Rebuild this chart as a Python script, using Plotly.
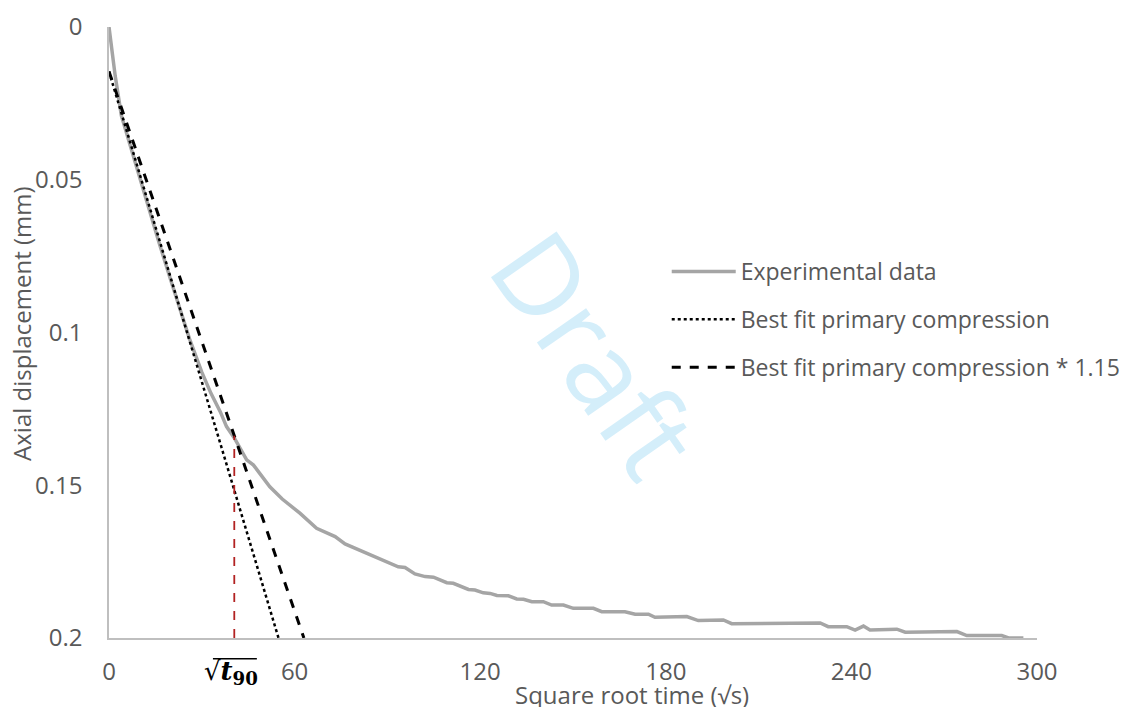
import plotly.graph_objects as go

# ---------------- data ----------------
exp_x = [0, 1, 2, 4, 8, 12, 16, 20, 26, 30, 33, 36, 38, 40.5, 44.5, 46.7, 52, 56,
         61.8, 67.1, 73.1, 76.3, 83.3, 93.5, 95.7, 98.9, 102.2, 104.9, 109.2, 111.3,
         116.2, 118.3, 121, 123.2, 125.4, 129.1, 131.8, 134, 136.7, 140.4, 143.1,
         146.9, 150.1, 156.6, 159.3, 166.8, 170.1, 174.4, 176.5, 186.8, 190.5, 198.6,
         201.3, 229.9, 232.5, 238.5, 241.2, 243.9, 246, 254.7, 257.4, 274.1, 277.3,
         288.6, 290.8, 295.6]
exp_y = [0, 0.008, 0.016, 0.029, 0.043, 0.056, 0.070, 0.083, 0.102, 0.113, 0.120,
         0.126, 0.1308, 0.1345, 0.1417, 0.1434, 0.1505, 0.1545, 0.1592, 0.1641,
         0.1668, 0.1692, 0.1723, 0.1767, 0.1769, 0.179, 0.1799, 0.1801, 0.1819,
         0.1821, 0.1841, 0.1843, 0.1852, 0.1854, 0.1861, 0.1862, 0.1872, 0.1873,
         0.1881, 0.1881, 0.1892, 0.1892, 0.1903, 0.1903, 0.1914, 0.1914, 0.1922,
         0.1922, 0.1932, 0.193, 0.1943, 0.1941, 0.1953, 0.1951, 0.1963, 0.1963,
         0.1974, 0.1961, 0.1974, 0.1971, 0.1981, 0.1979, 0.1992, 0.1992, 0.2, 0.2]

fit_x = [0, 54.8]
fit_y = [0.0146, 0.2]
fit115_x = [0, 63.0]
fit115_y = [0.0146, 0.2]

t90_root = 40.5
t90_disp = 0.1338

x_ticks = [0, 60, 120, 180, 240, 300]
y_ticks = [0, 0.05, 0.1, 0.15, 0.2]
y_tick_text = ["0", "0.05", "0.1", "0.15", "0.2"]

FONT = "Open Sans"
GREY_TXT = "#595959"

fig = go.Figure()
fig.add_trace(go.Scatter(x=exp_x, y=exp_y, mode="lines", name="Experimental data",
                         legendgroup="a",
                         line=dict(color="#a5a5a5", width=3.5)))
fig.add_trace(go.Scatter(x=fit_x, y=fit_y, mode="lines", name="Best fit primary compression",
                         legendgroup="b",
                         line=dict(color="black", width=2.5, dash="dot")))
fig.add_trace(go.Scatter(x=fit115_x, y=fit115_y, mode="lines",
                         name="Best fit primary compression * 1.15",
                         legendgroup="c",
                         line=dict(color="black", width=3, dash="dash")))
fig.add_trace(go.Scatter(x=[t90_root, t90_root], y=[0.2, t90_disp], mode="lines",
                         showlegend=False,
                         line=dict(color="#b22222", width=1.8, dash="dash")))

fig.update_layout(
    width=1126, height=699,
    margin=dict(l=101, r=97, t=19, b=69, autoexpand=False),
    paper_bgcolor="white", plot_bgcolor="white",
    font=dict(family=FONT, size=24, color=GREY_TXT),
    showlegend=True,
    legend=dict(x=0.601, y=0.635, xanchor="left", yanchor="top",
                font=dict(family=FONT, size=23, color=GREY_TXT),
                tracegroupgap=15, itemwidth=64, bgcolor="rgba(0,0,0,0)"),
    xaxis=dict(range=[0, 300], tickvals=x_ticks, ticktext=[str(v) for v in x_ticks],
               showgrid=False, zeroline=False, showline=True, linecolor="#bfbfbf",
               linewidth=1.5, ticks="", ticklabelstandoff=11, automargin=False,
               tickfont=dict(family=FONT, size=24, color=GREY_TXT)),
    yaxis=dict(range=[0.2, 0], tickvals=y_ticks, ticktext=y_tick_text,
               showgrid=False, zeroline=False, showline=True, linecolor="#bfbfbf",
               linewidth=1.5, ticks="", ticklabelstandoff=20, automargin=False,
               tickfont=dict(family=FONT, size=24, color=GREY_TXT)),
)

# axis titles
fig.add_annotation(text="Square root time (\u221as)", xref="paper", yref="paper",
                   x=0.5636, y=-0.093, xanchor="center", yanchor="middle",
                   showarrow=False, font=dict(family=FONT, size=24, color=GREY_TXT))
fig.add_annotation(text="Axial displacement (mm)", xref="paper", yref="paper",
                   x=-0.0938, y=0.514, xanchor="center", yanchor="middle",
                   textangle=-90, showarrow=False,
                   font=dict(family=FONT, size=24, color=GREY_TXT))

# sqrt(t90) label
fig.add_annotation(text="\u221a<b><i>t</i><sub>90</sub></b>", xref="x", yref="paper",
                   x=t90_root - 1.0, y=-0.057, xanchor="center", yanchor="middle",
                   showarrow=False,
                   font=dict(family="DejaVu Serif", size=26, color="black"))
fig.add_shape(type="line", xref="x", yref="paper", x0=t90_root - 6.9, x1=t90_root + 7.3,
              y0=-0.034, y1=-0.034, line=dict(color="black", width=1.5))

# watermark
fig.add_annotation(text="Draft", xref="paper", yref="paper", x=0.526, y=0.468,
                   xanchor="center", yanchor="middle", textangle=55, showarrow=False,
                   font=dict(family=FONT, size=112, color="#d4eefa"))

fig.write_html("out.html")
